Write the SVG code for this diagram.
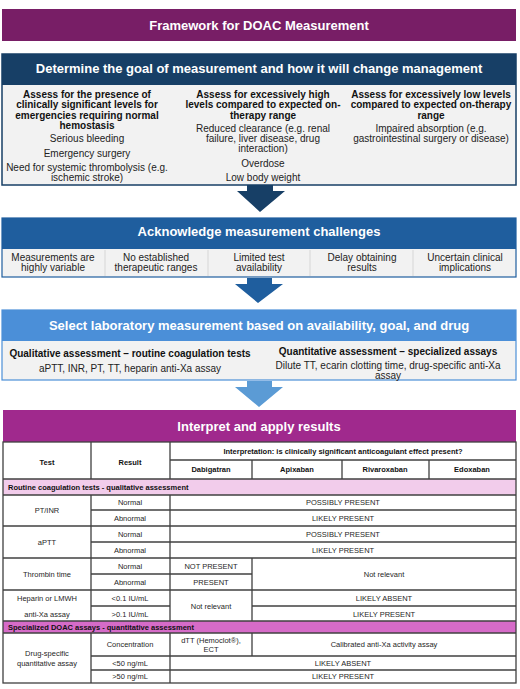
<svg xmlns="http://www.w3.org/2000/svg" width="520" height="689" viewBox="0 0 520 689">
<style>
text{font-family:"Liberation Sans",Arial,sans-serif;dominant-baseline:central;text-anchor:middle}
.hd{fill:#fff;font-weight:bold;font-size:13px}
.b{font-weight:bold;font-size:10px;fill:#111}
.n{font-size:10px;fill:#222}
.t{font-size:7.5px;fill:#262626}
.tb{font-size:7.5px;font-weight:bold;fill:#111}
.ln{stroke:#404040;stroke-width:1.3;fill:none}
</style>
<rect width="520" height="689" fill="#fff"/>
<g id="title">
<rect x="2" y="9" width="514" height="32" fill="#781E66"/>
<text class="hd" x="259" y="25">Framework for DOAC Measurement</text>
</g>
<g id="goal">
<rect x="2" y="85" width="514" height="100" fill="#F2F2F2"/>
<rect x="2" y="54" width="514" height="31" fill="#173F66"/>
<rect x="2" y="54" width="514" height="131" fill="none" stroke="#173F66" stroke-width="1.5"/>
<text class="hd" x="259" y="68">Determine the goal of measurement and how it will change management</text>
<text class="b" x="87" y="94">Assess for the presence of</text>
<text class="b" x="87" y="104.5">clinically significant levels for</text>
<text class="b" x="87" y="115">emergencies requiring normal</text>
<text class="b" x="87" y="125.5">hemostasis</text>
<text class="n" x="87" y="138">Serious bleeding</text>
<text class="n" x="87" y="153">Emergency surgery</text>
<text class="n" x="87" y="167">Need for systemic thrombolysis (e.g.</text>
<text class="n" x="87" y="177">ischemic stroke)</text>
<text class="b" x="263" y="94">Assess for excessively high</text>
<text class="b" x="263" y="104.5">levels compared to expected on-</text>
<text class="b" x="263" y="115">therapy range</text>
<text class="n" x="263" y="128">Reduced clearance (e.g. renal</text>
<text class="n" x="263" y="138">failure, liver disease, drug</text>
<text class="n" x="263" y="148">interaction)</text>
<text class="n" x="263" y="163">Overdose</text>
<text class="n" x="263" y="177">Low body weight</text>
<text class="b" x="431" y="94">Assess for excessively low levels</text>
<text class="b" x="431" y="104.5">compared to expected on-therapy</text>
<text class="b" x="431" y="115">range</text>
<text class="n" x="431" y="128">Impaired absorption (e.g.</text>
<text class="n" x="431" y="138">gastrointestinal surgery or disease)</text>
</g>
<g id="challenges">
<rect x="2" y="249" width="514" height="28" fill="#F2F2F2"/>
<rect x="2" y="218" width="514" height="31" fill="#1F5E9E"/>
<rect x="2" y="218" width="514" height="59" fill="none" stroke="#1F5E9E" stroke-width="1.2"/>
<g stroke="#D6D6D6" stroke-width="1"><line x1="105" y1="250" x2="105" y2="276"/><line x1="208" y1="250" x2="208" y2="276"/><line x1="310" y1="250" x2="310" y2="276"/><line x1="413" y1="250" x2="413" y2="276"/></g>
<text class="hd" x="259" y="231">Acknowledge measurement challenges</text>
<text class="n" x="53" y="257">Measurements are</text>
<text class="n" x="53" y="267">highly variable</text>
<text class="n" x="156" y="257">No established</text>
<text class="n" x="156" y="267">therapeutic ranges</text>
<text class="n" x="259" y="257">Limited test</text>
<text class="n" x="259" y="267">availability</text>
<text class="n" x="362" y="257">Delay obtaining</text>
<text class="n" x="362" y="267">results</text>
<text class="n" x="465" y="257">Uncertain clinical</text>
<text class="n" x="465" y="267">implications</text>
</g>
<g id="select">
<rect x="2" y="341" width="514" height="39" fill="#F2F2F2"/>
<rect x="2" y="310" width="514" height="31" fill="#4B8FD8"/>
<rect x="2" y="310" width="514" height="70" fill="none" stroke="#4B8FD8" stroke-width="1.2"/>
<text class="hd" x="259" y="325">Select laboratory measurement based on availability, goal, and drug</text>
<text class="b" x="130" y="353">Qualitative assessment – routine coagulation tests</text>
<text class="n" x="130" y="368">aPTT, INR, PT, TT, heparin anti-Xa assay</text>
<text class="b" x="388" y="351">Quantitative assessment – specialized assays</text>
<text class="n" x="388" y="365">Dilute TT, ecarin clotting time, drug-specific anti-Xa</text>
<text class="n" x="388" y="375">assay</text>
</g>
<g id="connectors">
<polygon points="247,185 273,185 273,191 285,191 260,212 237,191 247,191" fill="#173F66"/>
<polygon points="247,278 272,278 272,284 283,284 258,303 235,284 247,284" fill="#1F5E9E"/>
<polygon points="247,381 272,381 272,387 283,387 259,407 235,387 247,387" fill="#5B9BD5"/>
</g>
<g id="interpret">
<rect x="3" y="410" width="513" height="32" fill="#A0298D"/>
<text class="hd" x="259" y="426">Interpret and apply results</text>
<rect x="3" y="442" width="513" height="241" fill="#fff"/>
<rect x="3" y="479" width="513" height="16" fill="#F2CCEB"/>
<rect x="3" y="621" width="513" height="12" fill="#D66BC8"/>
<g class="ln">
<rect x="3" y="442" width="513" height="241"/>
<line x1="170" y1="460" x2="516" y2="460"/>
<line x1="3" y1="479" x2="516" y2="479"/>
<line x1="3" y1="495" x2="516" y2="495"/>
<line x1="91" y1="510" x2="516" y2="510"/>
<line x1="3" y1="526" x2="516" y2="526"/>
<line x1="91" y1="542" x2="516" y2="542"/>
<line x1="3" y1="558" x2="516" y2="558"/>
<line x1="91" y1="574" x2="252" y2="574"/>
<line x1="3" y1="590" x2="516" y2="590"/>
<line x1="91" y1="606" x2="170" y2="606"/>
<line x1="252" y1="606" x2="516" y2="606"/>
<line x1="3" y1="621" x2="516" y2="621"/>
<line x1="3" y1="633" x2="516" y2="633"/>
<line x1="91" y1="656" x2="516" y2="656"/>
<line x1="91" y1="670" x2="516" y2="670"/>
<path d="M91 442V479M91 495V621M91 633V683"/>
<path d="M170 442V479M170 495V621M170 633V683"/>
<path d="M252 460V479M252 558V621M252 633V656"/>
<path d="M342 460V479M429 460V479"/>
</g>
<text class="tb" x="47" y="462">Test</text>
<text class="tb" x="130" y="462">Result</text>
<text class="tb" x="343" y="451">Interpretation: is clinically significant anticoagulant effect present?</text>
<text class="tb" x="211" y="469.5">Dabigatran</text>
<text class="tb" x="297" y="469.5">Apixaban</text>
<text class="tb" x="385" y="469.5">Rivaroxaban</text>
<text class="tb" x="472" y="469.5">Edoxaban</text>
<text class="tb" x="8" y="487" style="text-anchor:start">Routine coagulation tests - qualitative assessment</text>
<text class="t" x="47" y="510">PT/INR</text>
<text class="t" x="130" y="502.5">Normal</text>
<text class="t" x="130" y="518">Abnormal</text>
<text class="t" x="343" y="502.5">POSSIBLY PRESENT</text>
<text class="t" x="343" y="518">LIKELY PRESENT</text>
<text class="t" x="47" y="542">aPTT</text>
<text class="t" x="130" y="534">Normal</text>
<text class="t" x="130" y="550">Abnormal</text>
<text class="t" x="343" y="534">POSSIBLY PRESENT</text>
<text class="t" x="343" y="550">LIKELY PRESENT</text>
<text class="t" x="47" y="574">Thrombin time</text>
<text class="t" x="130" y="566">Normal</text>
<text class="t" x="130" y="582">Abnormal</text>
<text class="t" x="211" y="566">NOT PRESENT</text>
<text class="t" x="211" y="582">PRESENT</text>
<text class="t" x="384" y="574">Not relevant</text>
<text class="t" x="47" y="598">Heparin or LMWH</text>
<text class="t" x="47" y="614">anti-Xa assay</text>
<text class="t" x="130" y="598">&lt;0.1 IU/mL</text>
<text class="t" x="130" y="614">&gt;0.1 IU/mL</text>
<text class="t" x="211" y="606">Not relevant</text>
<text class="t" x="384" y="598">LIKELY ABSENT</text>
<text class="t" x="384" y="614">LIKELY PRESENT</text>
<text class="tb" x="8" y="627" style="text-anchor:start">Specialized DOAC assays - quantitative assessment</text>
<text class="t" x="47" y="653">Drug-specific</text>
<text class="t" x="47" y="663">quantitative assay</text>
<text class="t" x="130" y="644.5">Concentration</text>
<text class="t" x="211" y="640">dTT (Hemoclot®),</text>
<text class="t" x="211" y="649">ECT</text>
<text class="t" x="384" y="644.5">Calibrated anti-Xa activity assay</text>
<text class="t" x="130" y="663">&lt;50 ng/mL</text>
<text class="t" x="130" y="676.5">&gt;50 ng/mL</text>
<text class="t" x="343" y="663">LIKELY ABSENT</text>
<text class="t" x="343" y="676.5">LIKELY PRESENT</text>
</g>
</svg>
